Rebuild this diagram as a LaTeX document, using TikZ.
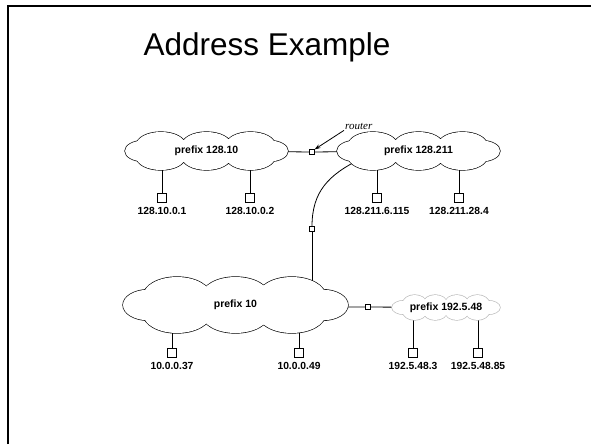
\documentclass[tikz,border=0pt]{standalone}
\usepackage{fontspec}
\setmainfont{Liberation Sans}
\newfontfamily\serifit{Liberation Serif}
\usetikzlibrary{backgrounds,arrows.meta,calc}
\newcommand\netcloudpath[2]{(0,0) ellipse [x radius=0.8, y radius=0.6]
  (-0.77,0) ellipse [x radius=0.23, y radius=0.55]
  (0.77,0) ellipse [x radius=0.23, y radius=0.55]
  foreach \bx in {#1} { (\bx,-0.32) ellipse [x radius=#2, y radius=0.68] (\bx,0.32) ellipse [x radius=#2, y radius=0.68] }}
% #1 name, #2 x, #3 y, #4 half width, #5 half height, #6 colour, #7 bump list, #8 bump radius, #9 text
\newcommand\netcloud[9]{%
  \begin{scope}[shift={(#2,#3)}, xscale=#4, yscale=#5]
    \draw[#6, line width=1.3pt] \netcloudpath{#7}{#8};
    \fill[white] \netcloudpath{#7}{#8};
  \end{scope}
  \node[cloudtext] (#1) at (#2,#3) {#9};}
\begin{document}
\begin{tikzpicture}[x=1pt,y=-1pt,
  cloudtext/.style={font=\bfseries\fontsize{10.5}{12}\selectfont, inner sep=0pt},
  rtr/.style={draw, fill=white, minimum size=4.5pt, inner sep=0pt, line width=0.6pt},
  hostbox/.style={draw, fill=white, minimum size=9pt, inner sep=0pt, line width=0.7pt},
  hostlbl/.style={font=\bfseries\fontsize{10.3}{11}\selectfont, inner sep=0pt, anchor=north},
  link/.style={line width=0.8pt}]
\useasboundingbox (0,0) rectangle (591,444);
% frame
\draw[line width=2pt] (7.5,444) -- (7.5,6.2) -- (591,6.2);
% title
\node (title) at (267,47) {\fontsize{31.5}{36}\selectfont Address Example};
% clouds
\netcloud{c1}{206.5}{151}{81.5}{19}{black}{-0.56,0,0.54}{0.3}{prefix 128.10}
\netcloud{c2}{418.5}{151}{81.5}{19}{black}{-0.56,0,0.54}{0.3}{prefix 128.211}
\netcloud{c3}{235.5}{305}{112.5}{28}{black}{-0.52,0,0.5}{0.3}{prefix 10}
\netcloud{c4}{446}{307.5}{54}{12.5}{gray!55}{-0.58,-0.2,0.2,0.58}{0.22}{prefix 192.5.48}
% routers
\node[rtr] (r1) at (312,152) {};
\node[rtr] (r3) at (312,229) {};
\node[rtr] (r2) at (368,307) {};
% hosts
\node[hostbox] (h1) at (162,198) {};
\node[hostbox] (h2) at (250,198) {};
\node[hostbox] (h3) at (377,198) {};
\node[hostbox] (h4) at (459,198) {};
\node[hostbox] (h5) at (172,353) {};
\node[hostbox] (h6) at (299,353) {};
\node[hostbox] (h7) at (413,353) {};
\node[hostbox] (h8) at (478,353) {};
\node[hostlbl] (l1) at ([yshift=-4pt]h1.south) {128.10.0.1};
\node[hostlbl] (l2) at ([yshift=-4pt]h2.south) {128.10.0.2};
\node[hostlbl] (l3) at ([yshift=-4pt]h3.south) {128.211.6.115};
\node[hostlbl] (l4) at ([yshift=-4pt]h4.south) {128.211.28.4};
\node[hostlbl] (l5) at ([yshift=-4pt]h5.south) {10.0.0.37};
\node[hostlbl] (l6) at ([yshift=-4pt]h6.south) {10.0.0.49};
\node[hostlbl] (l7) at ([yshift=-4pt]h7.south) {192.5.48.3};
\node[hostlbl] (l8) at ([yshift=-4pt]h8.south) {192.5.48.85};
% router label
\node[font=\serifit\itshape\fontsize{11}{12}\selectfont, anchor=west, inner sep=1pt] (rl) at (344,126) {router};
\draw[-{Stealth[length=6pt,width=4pt]}, line width=0.8pt] (rl.south west) -- (r1.north east);
% connectors behind clouds
\begin{pgfonlayer}{background}
\draw[link] (c1.center) -- (r1) -- (c2.center);
\draw[link] (c3.center |- r2) -- (r2) -- (c4.center);
\coordinate (cs) at ($(c2.center)+(-58,8)$);
\draw[link] (cs) .. controls (328,175) and (312,192) .. (r3.north);
\draw[link] (r3) -- (r3 |- c3.center);
\foreach \h/\c in {h1/c1,h2/c1,h3/c2,h4/c2,h5/c3,h6/c3,h7/c4,h8/c4}
  \draw[link] (\h.north) -- (\h |- \c.center);
\end{pgfonlayer}
\end{tikzpicture}
\end{document}
